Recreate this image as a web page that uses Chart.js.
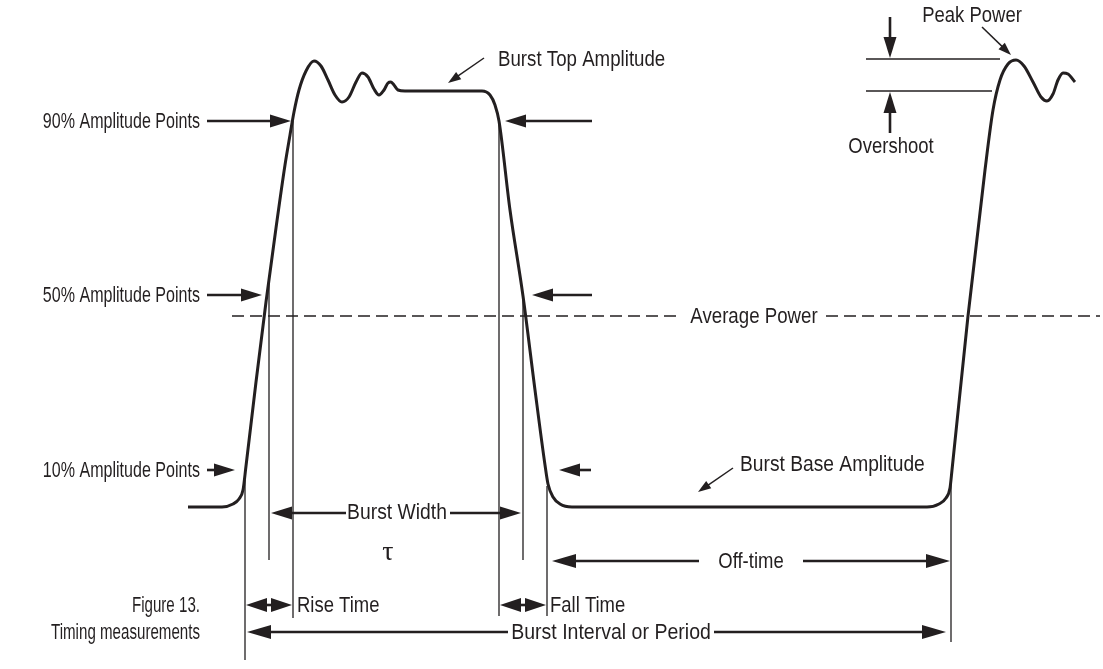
<!DOCTYPE html>
<html><head><meta charset="utf-8">
<script src="https://cdn.jsdelivr.net/npm/chart.js@4.4.1/dist/chart.umd.min.js"></script>
<style>html,body{margin:0;padding:0;background:#fff;overflow:hidden}#wrap{width:1103px;height:669px;position:relative}</style>
</head><body><div id="wrap"><canvas id="c" width="1103" height="669"></canvas></div>
<script>
const waveX = [188,222,233,239,243,246,256,266,276,285,290,294,299,306,314,321,328,335,342,349,356,362,368,374,379,384,388,391,394,398,405,482,490,495,499,510,523,535,545,548,553,560,572,927,939,946,950,952,968,985,993,1000,1008,1016,1024,1033,1041,1047,1053,1058,1063,1068,1075];
const waveY = [507,507,504,499,490,466,382,302,228,165,135,112,90,71,61,66,80,95,102,97,82,73,77,89,95,90,83,82,85,90,91,91,95,105,121,210,296,390,465,484,497,504,507,507,504,498,488,470,316,170,110,80,64,60,66,82,97,101,94,80,73,74,82];
const guideX      = [245,269,293,499,523,547,951];
const guideTop    = [480,280,121,121,296,486,478];
const guideBottom = [660,560,618,616,560,616,642];
const levelY      = [59,91];
const levelStart  = [866,866];
const levelEnd    = [1000,992];
const avgPowerY   = 316;
const avgSegStart = [232,826];
const avgSegEnd   = [682,1100];

// ---- Annotations (positions in the same diagram units) ----
const INK = '#231f20';
const arrows = [
  // [x1,y1,x2,y2,kind]
  [207,121,291,121,'thick'],[592,121,505,121,'thick'],
  [207,295,262,295,'thick'],[592,295,532,295,'thick'],
  [207,470,235,470,'thick'],[591,470,559,470,'thick'],
  [346,513,271,513,'thick'],[450,513,521,513,'thick'],
  [269,605,246,605,'small'],[269,605,292,605,'small'],
  [523,605,500,605,'small'],[523,605,546,605,'small'],
  [699,561,552,561,'long'],[803,561,950,561,'long'],
  [508,632,247,632,'long'],[714,632,946,632,'long'],
  [890,17,890,58,'thick'],[890,133,890,92,'thick'],
  [982,27,1011,55,'thin'],[484,58,448,83,'thin'],[733,468,698,492,'thin']
];
const labels = [
  // [text, x, y, align, horizontal condensing]
  ['Peak Power',972,15,'center',0.88],
  ['Burst Top Amplitude',498,59,'left',0.89],
  ['90% Amplitude Points',200,121,'right',0.765],
  ['Overshoot',891,146,'center',0.88],
  ['50% Amplitude Points',200,295,'right',0.765],
  ['Average Power',754,316,'center',0.89],
  ['10% Amplitude Points',200,470,'right',0.765],
  ['Burst Base Amplitude',740,464,'left',0.915],
  ['Burst Width',397,512,'center',0.92],
  ['Off-time',751,561,'center',0.88],
  ['Figure 13.',200,605,'right',0.72],
  ['Timing measurements',200,632,'right',0.72],
  ['Rise Time',297,605,'left',0.88],
  ['Fall Time',550,605,'left',0.88],
  ['Burst Interval or Period',611,632,'center',0.93]
];
const tau = ['τ',388,553];

// ---- Build datasets ----
const datasets = [];
datasets.push({data: waveX.map((x,i)=>({x, y: waveY[i]})), borderColor: INK, borderWidth: 3, cubicInterpolationMode:'monotone', pointRadius:0, showLine:true, clip:false});
guideX.forEach((x,i)=>datasets.push({data:[{x,y:guideTop[i]},{x,y:guideBottom[i]}], borderColor: INK, borderWidth:1.3, pointRadius:0, showLine:true, clip:false}));
levelY.forEach((y,i)=>datasets.push({data:[{x:levelStart[i],y},{x:levelEnd[i],y}], borderColor: INK, borderWidth:1.3, pointRadius:0, showLine:true, clip:false}));
avgSegStart.forEach((x,i)=>datasets.push({data:[{x,y:avgPowerY},{x:avgSegEnd[i],y:avgPowerY}], borderColor: INK, borderWidth:1.5, borderDash:[12,6], pointRadius:0, showLine:true, clip:false}));

const annot = {
  id:'annot',
  afterDatasetsDraw(chart){
    const ctx = chart.ctx, xs = chart.scales.x, ys = chart.scales.y;
    const px = v=>xs.getPixelForValue(v), py = v=>ys.getPixelForValue(v);
    const spec = {thick:{lw:2.6,len:21,hw:6.5}, long:{lw:2.6,len:24,hw:7}, small:{lw:2.6,len:21,hw:7}, thin:{lw:1.5,len:13,hw:4.5}};
    ctx.save();
    ctx.fillStyle = INK; ctx.strokeStyle = INK; ctx.lineCap='butt';
    arrows.forEach(a=>{
      const s = spec[a[4]];
      const x1=px(a[0]), y1=py(a[1]), x2=px(a[2]), y2=py(a[3]);
      const dx=x2-x1, dy=y2-y1, L=Math.hypot(dx,dy), ux=dx/L, uy=dy/L;
      const len = Math.min(s.len, L-1);
      const bx=x2-ux*len, by=y2-uy*len;
      ctx.lineWidth=s.lw;
      ctx.beginPath(); ctx.moveTo(x1,y1); ctx.lineTo(bx+ux*2,by+uy*2); ctx.stroke();
      ctx.beginPath(); ctx.moveTo(x2,y2); ctx.lineTo(bx-uy*s.hw,by+ux*s.hw); ctx.lineTo(bx+uy*s.hw,by-ux*s.hw); ctx.closePath(); ctx.fill();
    });
    ctx.textBaseline='middle';
    ctx.font = '21px "Liberation Sans", Arial, sans-serif';
    labels.forEach(l=>{
      ctx.save(); ctx.translate(px(l[1]), py(l[2])); ctx.scale(l[4],1.03);
      ctx.textAlign=l[3]; ctx.fillText(l[0],0,1); ctx.restore();
    });
    ctx.font = '28px "Liberation Serif", "DejaVu Serif", serif';
    ctx.textAlign='center'; ctx.fillText(tau[0], px(tau[1]), py(tau[2]));
    ctx.restore();
  }
};

new Chart(document.getElementById('c'), {
  type:'scatter',
  data:{datasets},
  options:{
    responsive:false, animation:false, events:[],
    layout:{padding:0},
    plugins:{legend:{display:false}, tooltip:{enabled:false}},
    scales:{
      x:{type:'linear', min:0, max:1103, display:false},
      y:{type:'linear', min:0, max:669, reverse:true, display:false}
    }
  },
  plugins:[annot]
});
</script></body></html>
